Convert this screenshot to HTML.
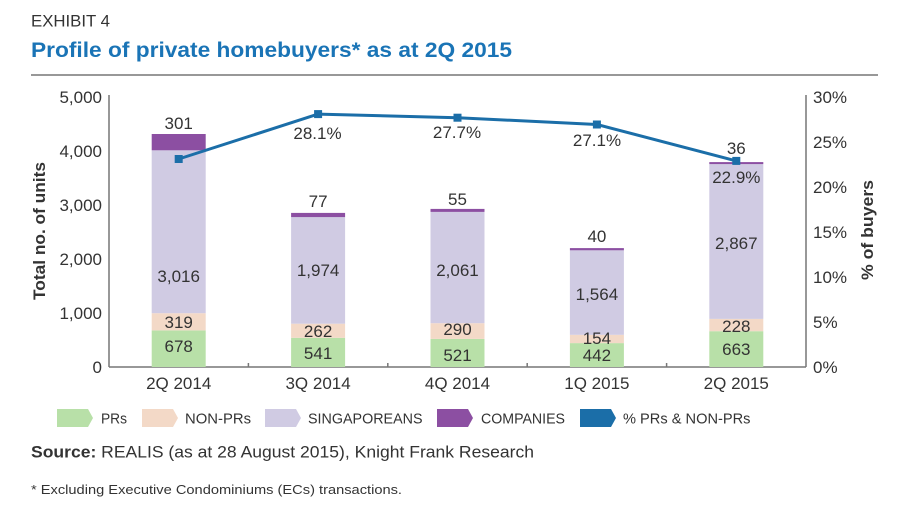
<!DOCTYPE html>
<html><head><meta charset="utf-8"><style>
html,body{margin:0;padding:0;background:#fff;}
svg{display:block;}
text{font-family:"Liberation Sans",Arial,sans-serif;fill:#333;}
</style></head><body>
<svg width="900" height="532" viewBox="0 0 900 532" xmlns="http://www.w3.org/2000/svg">
<rect width="900" height="532" fill="#fff"/>
<text x="31" y="26.5" font-size="17" textLength="79" lengthAdjust="spacingAndGlyphs" fill="#333">EXHIBIT 4</text>
<text x="31" y="57" font-size="21.5" font-weight="bold" textLength="481" lengthAdjust="spacingAndGlyphs" style="fill:#1a74b6">Profile of private homebuyers* as at 2Q 2015</text>
<line x1="31" y1="75" x2="878" y2="75" stroke="#777" stroke-width="1.5"/>

<!-- axes -->
<g stroke="#777" stroke-width="1.5" fill="none">
<line x1="109" y1="95" x2="109" y2="367"/>
<line x1="806" y1="95" x2="806" y2="367"/>
<line x1="109" y1="367" x2="806" y2="367"/>
<line x1="248.4" y1="367" x2="248.4" y2="363"/>
<line x1="387.8" y1="367" x2="387.8" y2="363"/>
<line x1="527.2" y1="367" x2="527.2" y2="363"/>
<line x1="666.6" y1="367" x2="666.6" y2="363"/>
</g>

<!-- left ticks -->
<g font-size="17" text-anchor="end">
<text x="102" y="103">5,000</text>
<text x="102" y="157">4,000</text>
<text x="102" y="211">3,000</text>
<text x="102" y="265">2,000</text>
<text x="102" y="319">1,000</text>
<text x="102" y="373">0</text>
</g>
<!-- right ticks -->
<g font-size="17" text-anchor="start">
<text x="813" y="103">30%</text>
<text x="813" y="148">25%</text>
<text x="813" y="193">20%</text>
<text x="813" y="238">15%</text>
<text x="813" y="283">10%</text>
<text x="813" y="328">5%</text>
<text x="813" y="373">0%</text>
</g>

<text transform="translate(45,300) rotate(-90)" font-size="17" font-weight="bold" textLength="138" lengthAdjust="spacingAndGlyphs" fill="#222">Total no. of units</text>
<text transform="translate(873,280) rotate(-90)" font-size="17" font-weight="bold" textLength="100" lengthAdjust="spacingAndGlyphs" fill="#222">% of buyers</text>

<!-- bars -->
<g>
<!-- 2Q 2014 -->
<rect x="151.7" y="330.4" width="54" height="36.6" fill="#b8e0a8"/>
<rect x="151.7" y="313.2" width="54" height="17.2" fill="#f3d9c7"/>
<rect x="151.7" y="150.3" width="54" height="162.9" fill="#d0cbe3"/>
<rect x="151.7" y="134.0" width="54" height="16.3" fill="#8c4fa2"/>
<!-- 3Q 2014 -->
<rect x="291.1" y="337.8" width="54" height="29.2" fill="#b8e0a8"/>
<rect x="291.1" y="323.7" width="54" height="14.1" fill="#f3d9c7"/>
<rect x="291.1" y="217.1" width="54" height="106.6" fill="#d0cbe3"/>
<rect x="291.1" y="212.9" width="54" height="4.2" fill="#8c4fa2"/>
<!-- 4Q 2014 -->
<rect x="430.5" y="338.9" width="54" height="28.1" fill="#b8e0a8"/>
<rect x="430.5" y="323.2" width="54" height="15.7" fill="#f3d9c7"/>
<rect x="430.5" y="211.9" width="54" height="111.3" fill="#d0cbe3"/>
<rect x="430.5" y="208.9" width="54" height="3.0" fill="#8c4fa2"/>
<!-- 1Q 2015 -->
<rect x="569.9" y="343.1" width="54" height="23.9" fill="#b8e0a8"/>
<rect x="569.9" y="334.8" width="54" height="8.3" fill="#f3d9c7"/>
<rect x="569.9" y="250.3" width="54" height="84.5" fill="#d0cbe3"/>
<rect x="569.9" y="248.1" width="54" height="2.2" fill="#8c4fa2"/>
<!-- 2Q 2015 -->
<rect x="709.3" y="331.2" width="54" height="35.8" fill="#b8e0a8"/>
<rect x="709.3" y="318.9" width="54" height="12.3" fill="#f3d9c7"/>
<rect x="709.3" y="164.1" width="54" height="154.8" fill="#d0cbe3"/>
<rect x="709.3" y="162.1" width="54" height="2.0" fill="#8c4fa2"/>
</g>

<!-- bar labels -->
<g font-size="17" text-anchor="middle">
<text x="178.7" y="352">678</text>
<text x="178.7" y="328">319</text>
<text x="178.7" y="282">3,016</text>
<text x="178.7" y="129">301</text>

<text x="318.1" y="359">541</text>
<text x="318.1" y="337">262</text>
<text x="318.1" y="276">1,974</text>
<text x="318.1" y="207">77</text>

<text x="457.5" y="361">521</text>
<text x="457.5" y="335">290</text>
<text x="457.5" y="276">2,061</text>
<text x="457.5" y="205">55</text>

<text x="596.9" y="361">442</text>
<text x="596.9" y="344">154</text>
<text x="596.9" y="300">1,564</text>
<text x="596.9" y="242">40</text>

<text x="736.3" y="355">663</text>
<text x="736.3" y="332">228</text>
<text x="736.3" y="249">2,867</text>
<text x="736.3" y="154">36</text>
<text x="736.3" y="183">22.9%</text>

<text x="317.5" y="139">28.1%</text>
<text x="457" y="138">27.7%</text>
<text x="597" y="146">27.1%</text>
</g>

<!-- line -->
<polyline points="178.7,159 318.1,114.1 457.5,117.7 596.9,124.5 736.3,160.9" fill="none" stroke="#1b6ea8" stroke-width="3" stroke-linejoin="round"/>
<g fill="#1b6ea8">
<rect x="174.7" y="155" width="8" height="8"/>
<rect x="314.1" y="110.1" width="8" height="8"/>
<rect x="453.5" y="113.7" width="8" height="8"/>
<rect x="592.9" y="120.5" width="8" height="8"/>
<rect x="732.3" y="156.9" width="8" height="8"/>
</g>

<!-- x labels -->
<g font-size="17" text-anchor="middle">
<text x="178.7" y="389">2Q 2014</text>
<text x="318.1" y="389">3Q 2014</text>
<text x="457.5" y="389">4Q 2014</text>
<text x="596.9" y="389">1Q 2015</text>
<text x="736.3" y="389">2Q 2015</text>
</g>

<!-- legend -->
<polygon points="57,409 88,409 93,418 88,427 57,427" fill="#b8e0a8"/>
<text x="101" y="423.5" font-size="15" textLength="26" lengthAdjust="spacingAndGlyphs">PRs</text>
<polygon points="142,409 173,409 178,418 173,427 142,427" fill="#f3d9c7"/>
<text x="185" y="423.5" font-size="15" textLength="66" lengthAdjust="spacingAndGlyphs">NON-PRs</text>
<polygon points="265,409 296,409 301,418 296,427 265,427" fill="#d0cbe3"/>
<text x="308" y="423.5" font-size="15" textLength="114.5" lengthAdjust="spacingAndGlyphs">SINGAPOREANS</text>
<polygon points="437,409 468,409 473,418 468,427 437,427" fill="#8c4fa2"/>
<text x="481" y="423.5" font-size="15" textLength="84" lengthAdjust="spacingAndGlyphs">COMPANIES</text>
<polygon points="580,409 611,409 616,418 611,427 580,427" fill="#1b6ea8"/>
<text x="623" y="423.5" font-size="15" textLength="127.5" lengthAdjust="spacingAndGlyphs">% PRs &amp; NON-PRs</text>

<!-- source -->
<text x="31" y="457.5" font-size="16.5" textLength="503" lengthAdjust="spacingAndGlyphs" fill="#333"><tspan font-weight="bold">Source:</tspan> REALIS (as at 28 August 2015), Knight Frank Research</text>
<text x="31" y="494" font-size="13" textLength="371" lengthAdjust="spacingAndGlyphs" fill="#444">* Excluding Executive Condominiums (ECs) transactions.</text>
</svg>
</body></html>
